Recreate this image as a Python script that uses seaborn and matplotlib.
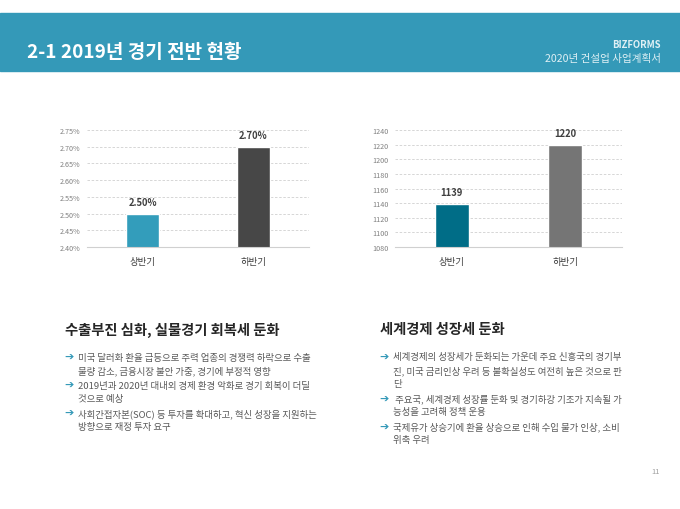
import numpy as np
import pandas as pd
import seaborn as sns
import matplotlib.pyplot as plt
from matplotlib.patches import Rectangle
from matplotlib.ticker import FuncFormatter

# %% Data
categories = ["상반기", "하반기"]
growth_rate = [2.50, 2.70]          # %
exchange_rate = [1139, 1220]        # 원/달러
growth_ticks = [2.40, 2.45, 2.50, 2.55, 2.60, 2.65, 2.70, 2.75]
exchange_ticks = [1080, 1100, 1120, 1140, 1160, 1180, 1200, 1220, 1240]

left_heading = "수출부진 심화, 실물경기 회복세 둔화"
left_bullets = [
    ["미국 달러화 환율 급등으로 주력 업종의 경쟁력 하락으로 수출",
     "물량 감소, 금융시장 불안 가중, 경기에 부정적 영향"],
    ["2019년과 2020년 대내외 경제 환경 악화로 경기 회복이 더딜",
     "것으로 예상"],
    ["사회간접자본(SOC) 등 투자를 확대하고, 혁신 성장을 지원하는",
     "방향으로 재정 투자 요구"],
]
right_heading = "세계경제 성장세 둔화"
right_bullets = [
    ["세계경제의 성장세가 둔화되는 가운데 주요 신흥국의 경기부",
     "진, 미국 금리인상 우려 등 불확실성도 여전히 높은 것으로 판",
     "단"],
    [" 주요국, 세계경제 성장률 둔화 및 경기하강 기조가 지속될 가",
     "능성을 고려해 정책 운용"],
    ["국제유가 상승기에 환율 상승으로 인해 수입 물가 인상, 소비",
     "위축 우려"],
]

TEAL = "#3499b8"
FONT = ["Noto Sans CJK KR", "DejaVu Sans"]

sns.set_theme(style="white")
plt.rcParams["font.family"] = FONT

W, H = 680, 510
fig = plt.figure(figsize=(6.8, 5.1), dpi=100)


def fx(px):
    return px / W


def fy(py):
    return 1 - py / H


# %% Header band
fig.patches.append(Rectangle((0, fy(72)), 1, (72 - 14) / H, transform=fig.transFigure,
                             color=TEAL, zorder=0))
fig.text(fx(27), fy(53), "2-1 2019년 경기 전반 현황", color="white", fontsize=13.7,
         fontweight="bold", va="center", ha="left")
fig.text(fx(661), fy(45), "BIZFORMS", color="#dff0f5", fontsize=6.8, fontweight="bold",
         va="center", ha="right")
fig.text(fx(661), fy(59), "2020년 건설업 사업계획서", color="#dff0f5", fontsize=7.6,
         va="center", ha="right")


# %% Charts
def draw_bars(rect, values, ticks, palette, fmt, label_fmt):
    ax = fig.add_axes(rect)
    df = pd.DataFrame({"cat": categories, "val": values})
    sns.barplot(data=df, x="cat", y="val", hue="cat", palette=palette, width=0.3,
                legend=False, ax=ax, saturation=1)
    ax.set_ylim(ticks[0], ticks[-1])
    ax.set_xlim(-0.5, 1.5)
    ax.set_yticks(ticks)
    ax.yaxis.set_major_formatter(FuncFormatter(fmt))
    ax.set_xlabel("")
    ax.set_ylabel("")
    ax.grid(axis="y", color="#d0d0d0", linestyle=(0, (3, 2)), linewidth=0.6)
    ax.set_axisbelow(True)
    for s in ["left", "right", "top"]:
        ax.spines[s].set_visible(False)
    ax.spines["bottom"].set_color("#d0d0d0")
    ax.spines["bottom"].set_linewidth(0.8)
    ax.tick_params(axis="y", labelsize=5.2, colors="#808080", length=0, pad=4.5)
    ax.tick_params(axis="x", labelsize=6.8, colors="#404040", length=0, pad=7)
    for c in ax.containers:
        ax.bar_label(c, labels=[label_fmt(v) for v in c.datavalues], padding=5,
                     fontsize=6.8, fontweight="bold", color="#404040")
    return ax


draw_bars([fx(87), fy(248), fx(309 - 87), (248 - 131) / H], growth_rate, growth_ticks,
          ["#339dbb", "#474747"], lambda v, p: f"{v:.2f}%", lambda v: f"{v:.2f}%")
draw_bars([fx(395), fy(248), fx(622 - 395), (248 - 131) / H], exchange_rate, exchange_ticks,
          ["#006d87", "#757575"], lambda v, p: f"{v:.0f}", lambda v: f"{v:.0f}")


# %% Text blocks
def draw_block(x, heading, bullets):
    fig.text(fx(x), fy(330), heading, fontsize=10.3, fontweight="bold", color="#262626",
             va="center", ha="left")
    y = 358
    for lines in bullets:
        fig.text(fx(x - 1), fy(y), "➔", fontsize=8, fontweight="bold", color=TEAL,
                 va="center", ha="left", family=["DejaVu Sans"])
        for i, line in enumerate(lines):
            fig.text(fx(x + 13), fy(y), line, fontsize=6.8, color="#595959",
                     va="center", ha="left")
            y += 13.4 if i < len(lines) - 1 else 14.6


draw_block(65, left_heading, left_bullets)
draw_block(380, right_heading, right_bullets)

fig.text(fx(656), fy(472), "11", fontsize=5.5, color="#a0a0a0", va="center", ha="center")

fig.savefig("out.png", dpi=100)
